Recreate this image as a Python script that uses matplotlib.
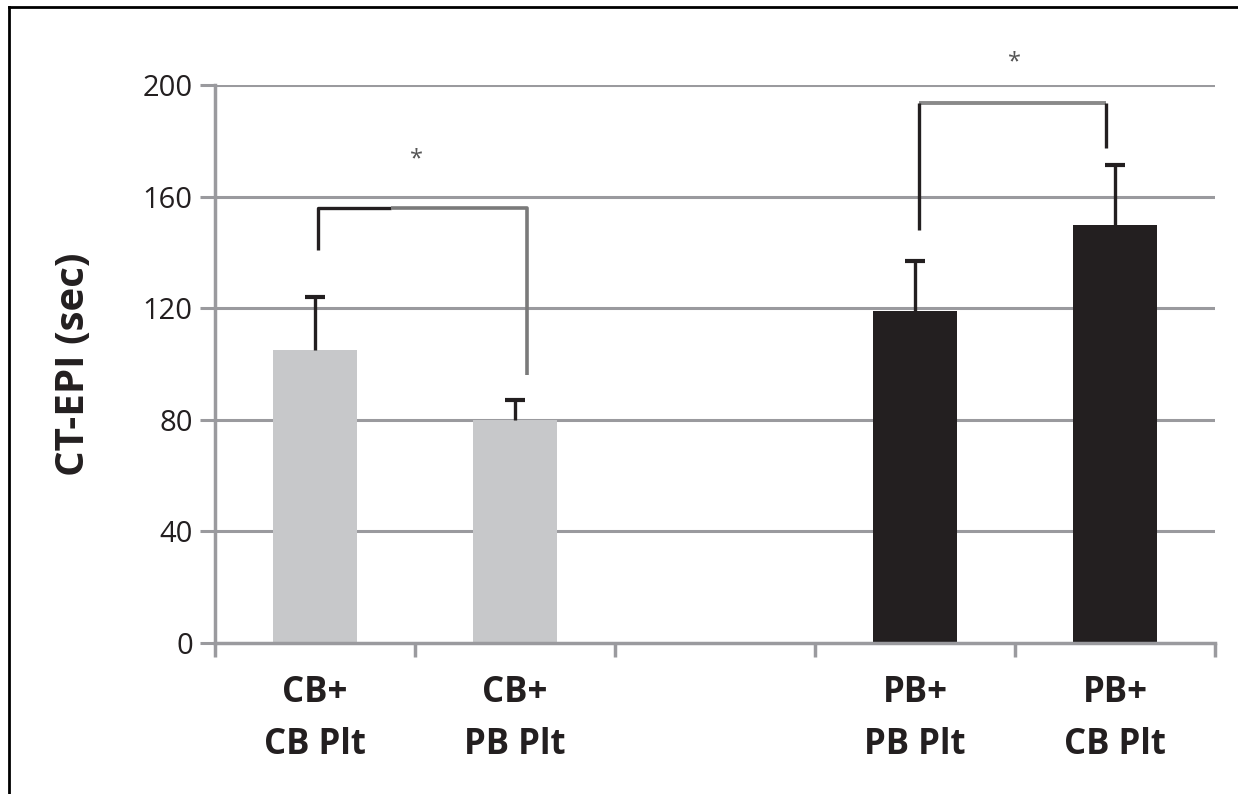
import matplotlib
matplotlib.use('Agg')
import matplotlib.pyplot as plt
from matplotlib.lines import Line2D

# data
labels = ['CB+\nCB Plt', 'CB+\nPB Plt', '', 'PB+\nPB Plt', 'PB+\nCB Plt']
positions = [0, 1, 3, 4]
means = [105, 80, 119, 150]
errs = [19, 7, 18, 21.5]
colors = ['#c7c8ca', '#c7c8ca', '#231f20', '#231f20']

# significance brackets: x left, x right, top y, left leg end, right leg end, star y
br_left = [0.015, 1.06, 156, 141, 96, 173.5]
br_right = [3.02, 3.955, 193.5, 148, 177.5, 208]

plt.rcParams['font.family'] = ['Open Sans', 'DejaVu Sans']
grid_c = '#9a9a9e'
dark = '#231f20'

fig = plt.figure(figsize=(12.38, 7.94), dpi=100)
ax = fig.add_axes([215/1238, 151/794, 1000/1238, 558/794])

for y in [40, 80, 120, 160, 200]:
    ax.axhline(y, color=grid_c, lw=2.2, zorder=0)

ax.bar(positions, means, width=0.42, color=colors, zorder=2)
# upper error bars only: stems, then a cap on top
tops = [m + e for m, e in zip(means, errs)]
ax.vlines(positions, means, tops, color=dark, lw=2.4, zorder=3)
ax.plot(positions, tops, linestyle='none', marker='_', markersize=14,
        markeredgewidth=3, color=dark, zorder=3)

# left bracket: black left leg and first part, gray rest
x0, x1, yt, yl, yr, ys = br_left
xm = 0.38
ax.plot([x0, x0, xm], [yl, yt, yt], color=dark, lw=2.4, solid_capstyle='butt', zorder=4)
ax.plot([xm, x1, x1], [yt, yt, yr], color='#7a7a7a', lw=2.6, solid_capstyle='butt', zorder=4)
ax.text((x0 + x1) / 2 - 0.03, ys, '*', ha='center', va='center', fontsize=17,
        color='#555555', clip_on=False)

# right bracket: black legs, gray top
x0, x1, yt, yl, yr, ys = br_right
ax.plot([x0, x1], [yt, yt], color='#8a8a8a', lw=2.8, solid_capstyle='butt', zorder=4)
ax.plot([x0, x0], [yl, yt], color=dark, lw=2.4, solid_capstyle='butt', zorder=4)
ax.plot([x1, x1], [yr, yt], color=dark, lw=2.4, solid_capstyle='butt', zorder=4)
ax.text((x0 + x1) / 2 + 0.01, ys, '*', ha='center', va='center', fontsize=17,
        color='#555555', clip_on=False)

ax.set_xlim(-0.5, 4.5)
ax.set_ylim(0, 200)
ax.set_yticks([0, 40, 80, 120, 160, 200])
ax.set_yticklabels(['0', '40', '80', '120', '160', '200'], fontsize=21, color=dark)
ax.set_xticks(range(5))
ax.set_xticklabels(labels, fontsize=25, fontweight='bold', color=dark, linespacing=1.6)
ax.set_xticks([-0.5, 0.5, 1.5, 2.5, 3.5, 4.5], minor=True)
ax.tick_params(axis='x', which='major', length=0, pad=23)
ax.tick_params(axis='x', which='minor', length=10, width=2.5, color=grid_c)
ax.tick_params(axis='y', length=11, width=2.2, color=grid_c, pad=5)
ax.set_ylabel('CT-EPI (sec)', fontsize=29, fontweight='bold', color=dark, labelpad=36)

for s in ['top', 'right']:
    ax.spines[s].set_visible(False)
for s in ['left', 'bottom']:
    ax.spines[s].set_color(grid_c)
    ax.spines[s].set_linewidth(2.5)

# outer frame (top and left only)
fig.add_artist(Line2D([9/1238, 9/1238], [0, 1 - 7/794], color='black', lw=2, transform=fig.transFigure))
fig.add_artist(Line2D([9/1238, 1], [1 - 7/794, 1 - 7/794], color='black', lw=2, transform=fig.transFigure))

plt.savefig('out.png', dpi=100)
